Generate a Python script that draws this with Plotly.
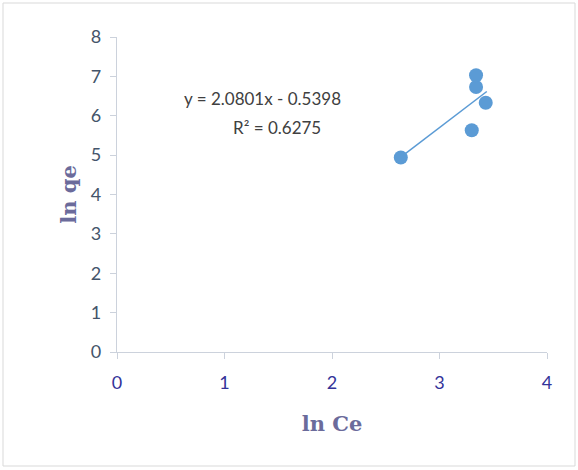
import plotly.graph_objects as go

ln_ce = [2.64, 3.30, 3.34, 3.34, 3.43]
ln_qe = [4.94, 5.63, 6.73, 7.03, 6.33]
slope = 2.0801
intercept = -0.5398
trend_x = [2.64, 3.44]
trend_y = [slope * x + intercept for x in trend_x]
x_ticks = [0, 1, 2, 3, 4]
y_ticks = [0, 1, 2, 3, 4, 5, 6, 7, 8]

blue = "#5b9bd5"

fig = go.Figure()
fig.add_trace(go.Scatter(x=trend_x, y=trend_y, mode="lines",
                         line=dict(color=blue, width=1.5), showlegend=False, hoverinfo="skip"))
fig.add_trace(go.Scatter(x=ln_ce, y=ln_qe, mode="markers",
                         marker=dict(color=blue, size=14, line=dict(width=0)), showlegend=False))

L, R, T, B = 117, 31, 37, 118
W, H = 578, 470
pw, ph = W - L - R, H - T - B

def px(xp):
    return (xp - L) / pw

def py(yp):
    return (H - B - yp) / ph

fig.update_layout(
    width=W, height=H,
    margin=dict(l=L, r=R, t=T, b=B),
    paper_bgcolor="white", plot_bgcolor="white",
    font=dict(family="Open Sans, Lato, sans-serif"),
    xaxis=dict(range=[0, 4], tickvals=x_ticks, showgrid=False, zeroline=False,
               showline=True, linecolor="#ccd2dc", linewidth=1.3,
               ticks="outside", ticklen=6, tickcolor="#ccd2dc", ticklabelstandoff=8,
               tickfont=dict(size=18, color="#333399", family="Lato, sans-serif"),
               title=dict(text="<b>ln Ce</b>", standoff=24,
                          font=dict(size=21, color="#6b6b9b", family="DejaVu Serif, serif"))),
    yaxis=dict(range=[0, 8], tickvals=y_ticks, showgrid=False, zeroline=False,
               showline=True, linecolor="#ccd2dc", linewidth=1.3,
               ticks="outside", ticklen=6, tickcolor="#ccd2dc", ticklabelstandoff=5,
               tickfont=dict(size=18, color="#44546a", family="Lato, sans-serif"),
               title=dict(text="<b>ln qe</b>", standoff=8,
                          font=dict(size=21, color="#6b6b9b", family="DejaVu Serif, serif"))),
    shapes=[dict(type="rect", xref="paper", yref="paper",
                 x0=px(3), x1=px(575), y0=py(466), y1=py(3),
                 line=dict(color="#d9d9d9", width=1))],
    annotations=[
        dict(text="y = 2.0801x - 0.5398", x=1.35, y=6.45, xref="x", yref="y",
             showarrow=False, font=dict(size=17, color="#404040", family="Lato, sans-serif")),
        dict(text="R² = 0.6275", x=1.49, y=5.69, xref="x", yref="y",
             showarrow=False, font=dict(size=17, color="#404040", family="Lato, sans-serif")),
    ],
)

fig.write_html("out.html", config={"displayModeBar": False},
               post_script="document.body.style.margin='0';")
